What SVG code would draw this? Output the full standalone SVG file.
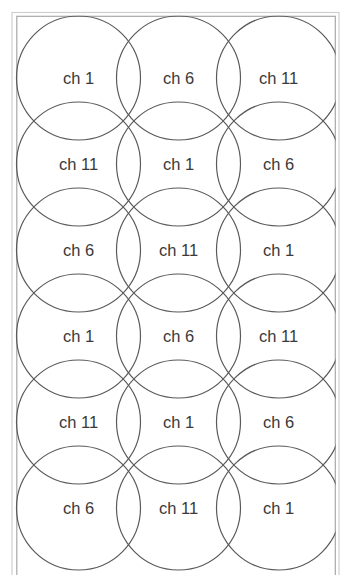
<svg xmlns="http://www.w3.org/2000/svg" width="340" height="575" viewBox="0 0 340 575">
<defs>
<style>
.cell{fill:none;stroke:#5a5a5a;stroke-width:1.2}
.lbl{font-family:"Liberation Sans",Arial,sans-serif;font-size:16.5px;fill:#3a3a3a;text-anchor:middle}
.frame-o{fill:none;stroke:#cfcfcf;stroke-width:1.2}
.frame-i{fill:none;stroke:#a8a8a8;stroke-width:1.2}
</style>
<clipPath id="clip"><rect x="15" y="15.5" width="320.5" height="560"/></clipPath>
</defs>
<rect x="0" y="0" width="340" height="575" fill="#ffffff"/>
<g id="frame">
<rect class="frame-o" x="12" y="12.5" width="327" height="570"/>
<rect class="frame-i" x="16.8" y="16.3" width="318.5" height="565"/>
</g>
<g id="cells" clip-path="url(#clip)">
<g id="r1c1"><circle class="cell" cx="78.5" cy="78" r="62"/><text class="lbl" x="78.5" y="84">ch 1</text></g>
<g id="r1c2"><circle class="cell" cx="178.5" cy="78" r="62"/><text class="lbl" x="178.5" y="84">ch 6</text></g>
<g id="r1c3"><circle class="cell" cx="278.5" cy="78" r="62"/><text class="lbl" x="278.5" y="84">ch 11</text></g>
<g id="r2c1"><circle class="cell" cx="78.5" cy="164" r="62"/><text class="lbl" x="78.5" y="170">ch 11</text></g>
<g id="r2c2"><circle class="cell" cx="178.5" cy="164" r="62"/><text class="lbl" x="178.5" y="170">ch 1</text></g>
<g id="r2c3"><circle class="cell" cx="278.5" cy="164" r="62"/><text class="lbl" x="278.5" y="170">ch 6</text></g>
<g id="r3c1"><circle class="cell" cx="78.5" cy="250" r="62"/><text class="lbl" x="78.5" y="256">ch 6</text></g>
<g id="r3c2"><circle class="cell" cx="178.5" cy="250" r="62"/><text class="lbl" x="178.5" y="256">ch 11</text></g>
<g id="r3c3"><circle class="cell" cx="278.5" cy="250" r="62"/><text class="lbl" x="278.5" y="256">ch 1</text></g>
<g id="r4c1"><circle class="cell" cx="78.5" cy="336" r="62"/><text class="lbl" x="78.5" y="342">ch 1</text></g>
<g id="r4c2"><circle class="cell" cx="178.5" cy="336" r="62"/><text class="lbl" x="178.5" y="342">ch 6</text></g>
<g id="r4c3"><circle class="cell" cx="278.5" cy="336" r="62"/><text class="lbl" x="278.5" y="342">ch 11</text></g>
<g id="r5c1"><circle class="cell" cx="78.5" cy="422" r="62"/><text class="lbl" x="78.5" y="428">ch 11</text></g>
<g id="r5c2"><circle class="cell" cx="178.5" cy="422" r="62"/><text class="lbl" x="178.5" y="428">ch 1</text></g>
<g id="r5c3"><circle class="cell" cx="278.5" cy="422" r="62"/><text class="lbl" x="278.5" y="428">ch 6</text></g>
<g id="r6c1"><circle class="cell" cx="78.5" cy="508" r="62"/><text class="lbl" x="78.5" y="514">ch 6</text></g>
<g id="r6c2"><circle class="cell" cx="178.5" cy="508" r="62"/><text class="lbl" x="178.5" y="514">ch 11</text></g>
<g id="r6c3"><circle class="cell" cx="278.5" cy="508" r="62"/><text class="lbl" x="278.5" y="514">ch 1</text></g>
</g>
<g id="connectors"/>
</svg>
